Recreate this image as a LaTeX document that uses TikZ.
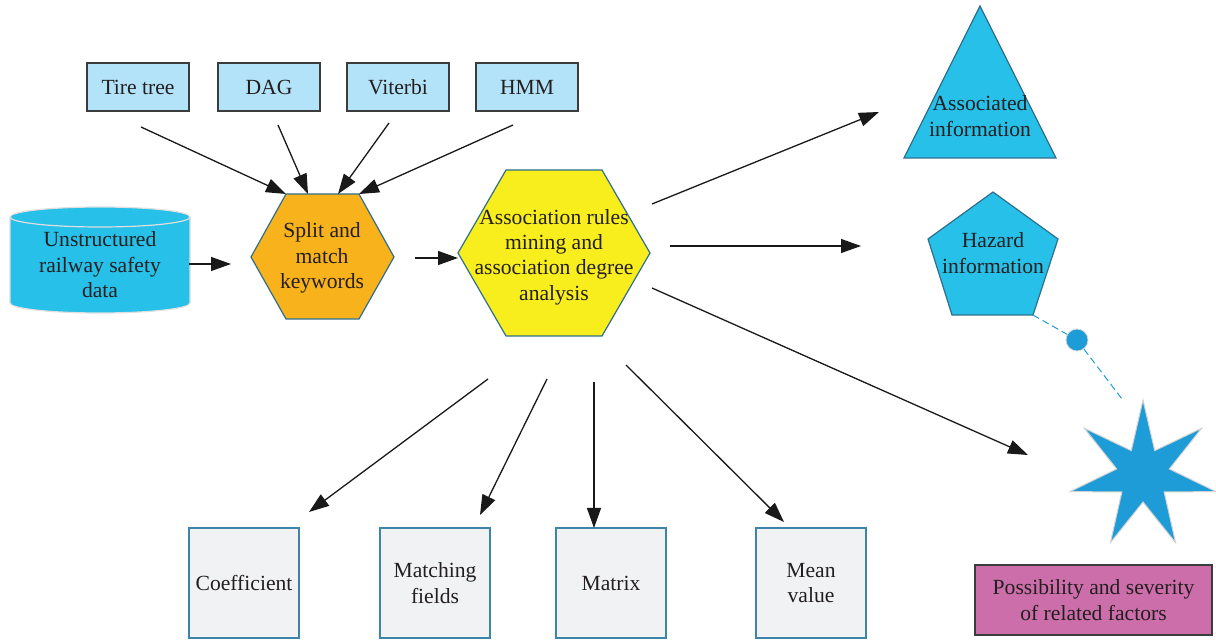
\documentclass[tikz,border=0pt]{standalone}
\usepackage{fontspec}
\setmainfont{Liberation Serif}
\usetikzlibrary{arrows.meta,calc}
\definecolor{txt}{HTML}{231F20}
\definecolor{lblue}{HTML}{B3E3F8}
\definecolor{boxline}{HTML}{3C3C3C}
\definecolor{cyanf}{HTML}{27C0E8}
\definecolor{orangef}{HTML}{F8B21B}
\definecolor{yellowf}{HTML}{F9EE1D}
\definecolor{hexline}{HTML}{2E6F8E}
\definecolor{starblue}{HTML}{1E9CD7}
\definecolor{botfill}{HTML}{F1F2F4}
\definecolor{botline}{HTML}{3E83A8}
\definecolor{pinkf}{HTML}{CC6EAA}
\begin{document}
\begin{tikzpicture}[x=0.5pt,y=-0.5pt,
  every node/.style={font=\fontsize{10.8}{12.7}\selectfont, text=txt, align=center},
  lbl/.style={inner sep=0pt},
  arr/.style={-{Triangle[length=10pt,width=7pt]}, line width=0.65pt, draw=black!90},
  topbox/.style={draw=boxline, fill=lblue, line width=0.75pt, minimum width=51pt, minimum height=24pt, inner sep=0pt},
  botbox/.style={draw=botline, fill=botfill, line width=0.75pt, minimum width=55pt, minimum height=55pt, inner sep=0pt},
  hexshape/.style={draw=hexline, line width=0.6pt},
  infoshape/.style={fill=cyanf, draw=hexline, line width=0.6pt},
  dashlink/.style={draw=starblue, line width=0.5pt, dash pattern=on 3.5pt off 2pt}
]
\useasboundingbox (0,0) rectangle (1216,641);

% top boxes
\node[topbox] (tire) at (138,87) {Tire tree};
\node[topbox] (dag) at (269,87) {DAG};
\node[topbox] (vit) at (398,87) {Viterbi};
\node[topbox] (hmm) at (527,87) {HMM};

% cylinder
\path[fill=cyanf, draw=gray!25, line width=0.6pt]
  (10,217) -- (10,303) arc[start angle=180, end angle=0, x radius=90, y radius=10]
  -- (190,217) arc[start angle=0, end angle=-180, x radius=90, y radius=10] -- cycle;
\draw[draw=gray!25, line width=0.6pt] (10,217) arc[start angle=180, end angle=0, x radius=90, y radius=10];
\node[lbl] (data) at (100,265) {Unstructured\\railway safety\\data};

% orange hexagon
\path[hexshape, fill=orangef] (251,257) -- (286,194) -- (359,194) -- (394,257) -- (359,319) -- (286,319) -- cycle;
\node[lbl] (split) at (322,258) {Split and\\match\\keywords};
\coordinate (splitTL) at (286,194);
\coordinate (splitT1) at (308,194);
\coordinate (splitT2) at (338,194);
\coordinate (splitTR) at (359,194);

% yellow hexagon
\path[hexshape, fill=yellowf] (458,253) -- (506,170) -- (602,170) -- (650,253) -- (602,336) -- (506,336) -- cycle;
\node[lbl] (assoc) at (554,257) {Association rules\\mining and\\association degree\\analysis};

% triangle
\path[infoshape] (980,6) -- (1056,158) -- (904,158) -- cycle;
\node[lbl] (ainfo) at (980,116) {Associated\\information};

% pentagon
\path[infoshape] (993,192) -- (1058,239) -- (1033,315) -- (952,315) -- (928,239) -- cycle;
\node[lbl] (hinfo) at (993,253) {Hazard\\information};
\coordinate (hazbr) at (1033,315);

% star
\coordinate (starc) at (1143,475);
\path[fill=starblue, draw=gray!35, line width=0.5pt]
  ($(starc)+(-90:75)$)
  \foreach \i in {0,...,6}{
    -- ($(starc)+({-90+(\i+0.5)*360/7}:27)$)
    -- ($(starc)+({-90+(\i+1)*360/7}:75)$)
  } -- cycle;
\coordinate (dashend) at (1122,399);
\node[circle, fill=starblue, draw=gray!30, line width=0.4pt, minimum size=11pt, inner sep=0pt] (dot) at (1077,340) {};
\draw[dashlink] (hazbr) -- (dot);
\draw[dashlink] (dot) -- (dashend);

% pink box
\node[draw=boxline, fill=pinkf, line width=0.75pt, minimum width=118.5pt, minimum height=35pt, inner sep=0pt] (poss) at (1093.5,600) {Possibility and severity\\of related factors};

% bottom boxes
\node[botbox] (coef) at (244,583) {Coefficient};
\node[botbox] (match) at (435,583) {Matching\\fields};
\node[botbox] (matrix) at (611,583) {Matrix};
\node[botbox] (mean) at (811,583) {Mean\\value};

% arrow coordinates
\coordinate (tireS) at (141,127);
\coordinate (dagS) at (278,125);
\coordinate (vitS) at (389,123);
\coordinate (hmmS) at (513,125);
\coordinate (dataS) at (189,264);
\coordinate (dataE) at (231,264);
\coordinate (splitS) at (415,258);
\coordinate (assocL) at (458,258);
\coordinate (toA1) at (652,204);
\coordinate (toA2) at (879,112);
\coordinate (toH1) at (670,246);
\coordinate (toH2) at (861,246);
\coordinate (toS1) at (652,288);
\coordinate (toS2) at (1028,455);
\coordinate (d1s) at (488,379);
\coordinate (d1e) at (309,512);
\coordinate (d2s) at (547,379);
\coordinate (d2e) at (480,515);
\coordinate (d3s) at (594,382);
\coordinate (d3e) at (594,528);
\coordinate (d4s) at (626,365);
\coordinate (d4e) at (784,522);

\draw[arr] (tireS) -- (splitTL);
\draw[arr] (dagS) -- (splitT1);
\draw[arr] (vitS) -- (splitT2);
\draw[arr] (hmmS) -- (splitTR);
\draw[arr] (dataS) -- (dataE);
\draw[arr] (splitS) -- (assocL);
\draw[arr] (toA1) -- (toA2);
\draw[arr] (toH1) -- (toH2);
\draw[arr] (toS1) -- (toS2);
\draw[arr] (d1s) -- (d1e);
\draw[arr] (d2s) -- (d2e);
\draw[arr] (d3s) -- (d3e);
\draw[arr] (d4s) -- (d4e);
\end{tikzpicture}
\end{document}
